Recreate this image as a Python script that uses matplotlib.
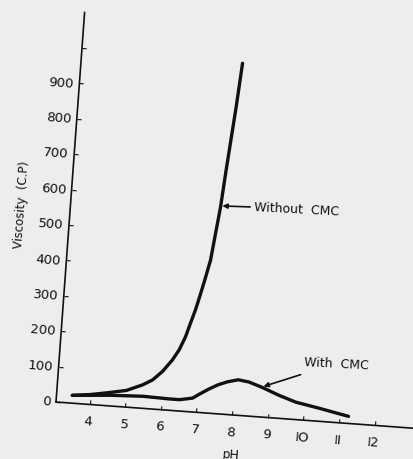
import matplotlib
matplotlib.use("Agg")
import matplotlib.pyplot as plt
from matplotlib.transforms import Affine2D
import mpl_toolkits.axisartist.floating_axes as floating_axes
from mpl_toolkits.axisartist.grid_finder import FixedLocator, DictFormatter

# values (pH vs viscosity in C.P)
ph_without = [3.5, 4.0, 4.5, 5.0, 5.44, 5.71, 5.97, 6.22, 6.39, 6.54, 6.65, 6.76,
              6.83, 6.96, 7.08, 7.25, 7.33, 7.48, 7.57]
visc_without = [22, 28, 37, 47, 66, 82, 108, 142, 172, 210, 249, 287,
                316, 373, 430, 581, 685, 864, 990]

ph_with = [3.5, 4.54, 5.47, 6.21, 6.5, 6.86, 7.05, 7.3, 7.55, 7.8, 8.1, 8.4,
           8.77, 9.26, 9.75, 10.4, 11.25]
visc_with = [22, 30, 34, 32, 32, 39, 52, 68, 82, 92, 100, 96,
             84, 65, 49, 37, 20]

x_ticks = [4, 5, 6, 7, 8, 9, 10, 11, 12]
x_labels = ["4", "5", "6", "7", "8", "9", "IO", "II", "I2"]
y_ticks = [0, 100, 200, 300, 400, 500, 600, 700, 800, 900, 1000]
y_labels = ["0", "100", "200", "300", "400", "500", "600", "700", "800", "900", ""]

bg = "#ededed"
ink = "#111111"

# the scan is turned a little clockwise, so the axes are drawn turned too
tilt = -4.2
tr = Affine2D().scale(35.75, 0.355).rotate_deg(tilt)

grid_helper = floating_axes.GridHelperCurveLinear(
    tr, extremes=(3.06, 13.06, 0, 1100),
    grid_locator1=FixedLocator(x_ticks),
    tick_formatter1=DictFormatter(dict(zip(x_ticks, x_labels))),
    grid_locator2=FixedLocator(y_ticks),
    tick_formatter2=DictFormatter(dict(zip(y_ticks, y_labels))))

fig = plt.figure(figsize=(4.14, 4.6), dpi=100, facecolor=bg)
ax = fig.add_axes([0, 0, 1, 1], axes_class=floating_axes.FloatingAxes,
                  grid_helper=grid_helper)
ax.patch.set_visible(False)

# place the origin at about (56, 57) px of the figure
ox, oy = tr.transform((3.06, 0))
ax.set_xlim(ox - 56, ox - 56 + 414)
ax.set_ylim(oy - 57, oy - 57 + 460)

ax.axis["top"].set_visible(False)
ax.axis["right"].set_visible(False)
for name in ("left", "bottom"):
    a = ax.axis[name]
    a.line.set_linewidth(1.2)
    a.line.set_color(ink)
    a.major_ticks.set_ticksize(3)
    a.major_ticks.set_color(ink)
    a.major_ticklabels.set_fontsize(9.5)
    a.major_ticklabels.set_color(ink)
    a.label.set_visible(True)
    a.label.set_color(ink)
ax.axis["bottom"].major_ticklabels.set_pad(8)
ax.axis["left"].major_ticklabels.set_pad(4)
ax.axis["bottom"].label.set_text("pH")
ax.axis["bottom"].label.set_fontsize(9)
ax.axis["bottom"].label.set_pad(9)
ax.axis["left"].label.set_text("Viscosity  (C.P)")
ax.axis["left"].label.set_fontsize(8.5)
ax.axis["left"].label.set_pad(8)

aux = ax.get_aux_axes(tr)
aux.plot(ph_without, visc_without, color=ink, lw=2.4, solid_capstyle="round",
         solid_joinstyle="round")
aux.plot(ph_with, visc_with, color=ink, lw=2.4, solid_capstyle="round",
         solid_joinstyle="round")

arrow = dict(arrowstyle="-|>", color=ink, lw=1.2, mutation_scale=7, shrinkA=1, shrinkB=1)
aux.annotate("Without  CMC", xy=(7.26, 585), xytext=(24, -2), textcoords="offset points",
             ha="left", va="center", fontsize=9, color=ink, rotation=-3, arrowprops=arrow)
aux.annotate("With  CMC", xy=(8.78, 85), xytext=(30, 17), textcoords="offset points",
             ha="left", va="center", fontsize=9, color=ink, rotation=-3, arrowprops=arrow)

fig.savefig("out.png", dpi=100, facecolor=bg)
